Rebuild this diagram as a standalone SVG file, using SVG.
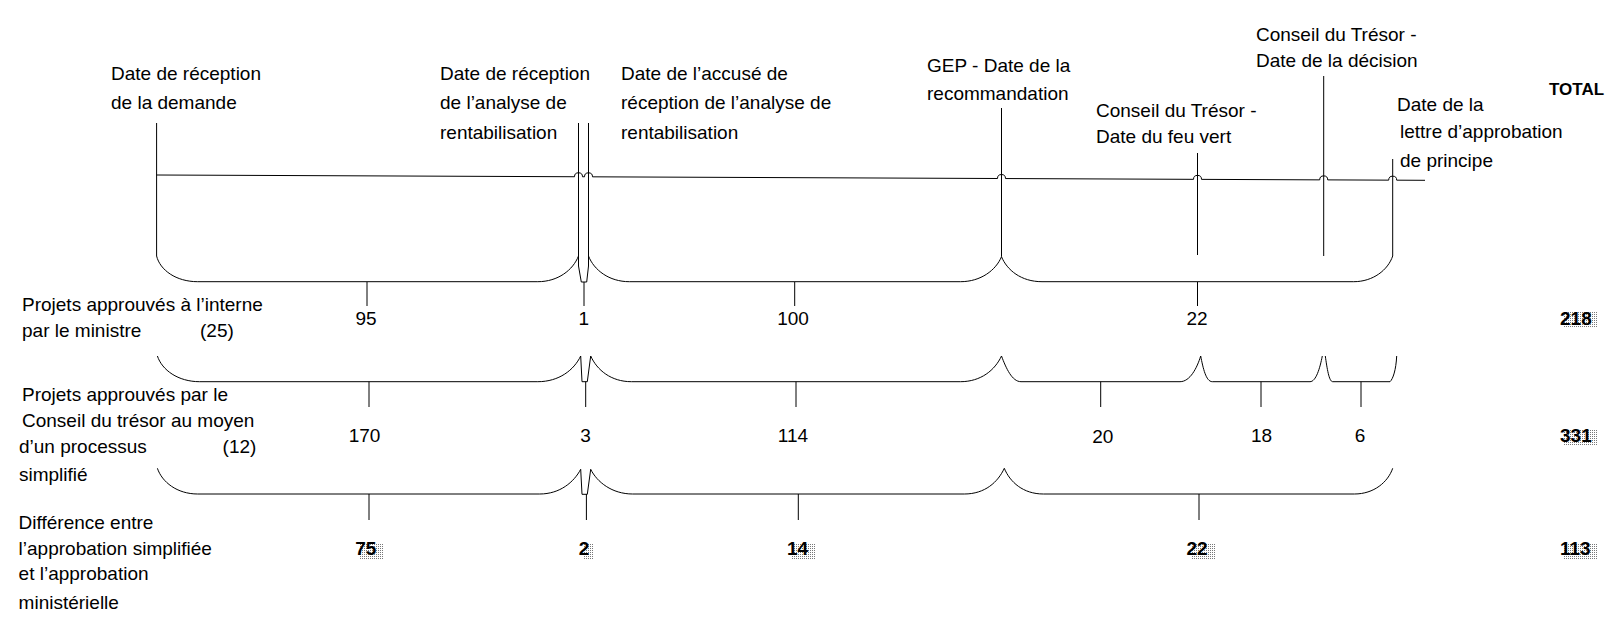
<svg xmlns="http://www.w3.org/2000/svg" width="1618" height="623" viewBox="0 0 1618 623">
<style>
text{font-family:"Liberation Sans",Arial,sans-serif;font-size:19px;fill:#000}
.n{text-anchor:middle}
.b{font-weight:bold}
.ln{fill:none;stroke:#000;stroke-width:1}
</style>
<defs>
<pattern id="dots" width="2" height="2" patternUnits="userSpaceOnUse">
<rect x="0" y="0" width="1" height="1" fill="#777"/>
</pattern>
</defs>
<rect width="1618" height="623" fill="#fff"/>

<g id="connectors">
<!-- timeline -->
<path class="ln" d="M156.6,175 L574.5,176.74 A4,4 0 0 1 582.5,176.78 L584.5,176.79 A4,4 0 0 1 592.5,176.82 L997.5,178.51 A4,4 0 0 1 1005.5,178.55 L1193.5,179.33 A4,4 0 0 1 1201.5,179.37 L1319.7,179.86 A4,4 0 0 1 1327.7,179.89 L1388.7,180.15 A4,4 0 0 1 1396.7,180.18 L1425,180.3"/>
<!-- milestone verticals -->
<path class="ln" d="M156.6,123 V256"/>
<path class="ln" d="M578.5,123 V266 L581.3,282 H586.7 L588.5,266 V123"/>
<path class="ln" d="M1001.5,108 V256.7"/>
<path class="ln" d="M1197.5,153 V255"/>
<path class="ln" d="M1323.7,76 V256"/>
<path class="ln" d="M1392.7,159 V256"/>
<!-- row 1 brackets -->
<path class="ln" d="M156.6,256 C160,270 176,281.7 197.7,281.7 H537.8 C558,281.7 573,270 578.5,256"/>
<path class="ln" d="M588.5,256 C594,270 609,281.7 629.4,281.7 H960.4 C981,281.7 996,270 1001.5,256.7 C1007,270 1021,281.7 1042,281.7 H1353.7 C1373,281.7 1388,270 1392.7,256"/>
<path class="ln" d="M367,282 V306 M584,282 V306 M794.7,282 V306 M1197.5,282 V306"/>
<!-- row 2 brackets -->
<path class="ln" d="M157.4,356 C162,370 178,381.7 199.7,381.7 H537.8 C559,381.7 574,370 580.7,356 L582,381.7 H587.3 L590.7,356 C597,370 611,381.7 631.4,381.7 H960.4 C981,381.7 995,370 1001.5,356 C1006,368 1012,381.7 1021,381.7 H1180 C1190,381.7 1197,368 1200.7,356 C1203,368 1206,381.7 1212.3,381.7 H1310 C1316,381.7 1320,368 1322.3,356 M1325.3,356 C1327,368 1329,381.7 1332.7,381.7 H1390 C1393,379 1396,370 1396.7,356"/>
<path class="ln" d="M369,381.7 V407 M585.7,381.7 V407 M796,381.7 V407 M1100.7,381.7 V407 M1261,381.7 V407 M1361,381.7 V407"/>
<!-- row 3 brackets -->
<path class="ln" d="M157.4,468.3 C162,482 177,494 197.7,494 H539.7 C560,494 574,482 580.7,469.3 L582,494.3 H587.3 L590.7,469.3 C597,482 612,494 632.6,494 H964.3 C985,494 998,482 1004.3,468.3 C1010,482 1023,494 1043.4,494 H1354.4 C1374,494 1388,482 1392.7,468.3"/>
<path class="ln" d="M369,494 V520 M586.4,494 V520 M798.3,494 V520 M1199,494 V520"/>
</g>

<g id="m-reception-demande">
<text x="111" y="80">Date de réception</text>
<text x="111" y="109">de la demande</text>
</g>
<g id="m-reception-analyse">
<text x="440" y="80">Date de réception</text>
<text x="440" y="109">de l’analyse de</text>
<text x="440" y="139">rentabilisation</text>
</g>
<g id="m-accuse">
<text x="621" y="80">Date de l’accusé de</text>
<text x="621" y="109">réception de l’analyse de</text>
<text x="621" y="139">rentabilisation</text>
</g>
<g id="m-gep">
<text x="927" y="72">GEP - Date de la</text>
<text x="927" y="100">recommandation</text>
</g>
<g id="m-feu-vert">
<text x="1096" y="117">Conseil du Trésor -</text>
<text x="1096" y="143">Date du feu vert</text>
</g>
<g id="m-decision">
<text x="1256" y="41">Conseil du Trésor -</text>
<text x="1256" y="67">Date de la décision</text>
</g>
<g id="m-lettre">
<text x="1397" y="111">Date de la</text>
<text x="1400" y="138">lettre d’approbation</text>
<text x="1400" y="167">de principe</text>
</g>
<g id="total-header">
<text class="b" x="1549" y="95" style="font-size:17px">TOTAL</text>
</g>

<g id="row-ministre">
<text x="22" y="311">Projets approuvés à l’interne</text>
<text x="22" y="337">par le ministre</text>
<text x="200" y="337">(25)</text>
<text class="n" x="366" y="325">95</text>
<text class="n" x="583.7" y="325">1</text>
<text class="n" x="793" y="325">100</text>
<text class="n" x="1197" y="325">22</text>
<rect x="1563" y="312" width="34" height="16" fill="url(#dots)"/>
<text class="b" x="1560" y="325">218</text>
</g>

<g id="row-tresor">
<text x="22" y="400.7">Projets approuvés par le</text>
<text x="22" y="426.7">Conseil du trésor au moyen</text>
<text x="19" y="452.7">d’un processus</text>
<text x="222.6" y="452.7">(12)</text>
<text x="19" y="481">simplifié</text>
<text class="n" x="364.6" y="441.7">170</text>
<text class="n" x="585.5" y="441.7">3</text>
<text class="n" x="793" y="441.7">114</text>
<text class="n" x="1102.8" y="442.7">20</text>
<text class="n" x="1261.5" y="441.7">18</text>
<text class="n" x="1360" y="441.7">6</text>
<rect x="1563" y="429" width="34" height="16" fill="url(#dots)"/>
<text class="b" x="1560" y="441.7">331</text>
</g>

<g id="row-difference">
<text x="18.6" y="528.7">Différence entre</text>
<text x="18.6" y="554.7">l’approbation simplifiée</text>
<text x="18.6" y="580">et l’approbation</text>
<text x="18.6" y="609">ministérielle</text>
<rect x="360" y="543" width="24" height="16" fill="url(#dots)"/>
<text class="n b" x="365.8" y="555">75</text>
<rect x="583" y="543" width="11" height="16" fill="url(#dots)"/>
<text class="n b" x="584" y="555">2</text>
<rect x="792" y="543" width="24" height="16" fill="url(#dots)"/>
<text class="n b" x="797.5" y="555">14</text>
<rect x="1191" y="543" width="24" height="16" fill="url(#dots)"/>
<text class="n b" x="1197" y="555">22</text>
<rect x="1563" y="543" width="34" height="16" fill="url(#dots)"/>
<text class="b" x="1560" y="555">113</text>
</g>
</svg>
